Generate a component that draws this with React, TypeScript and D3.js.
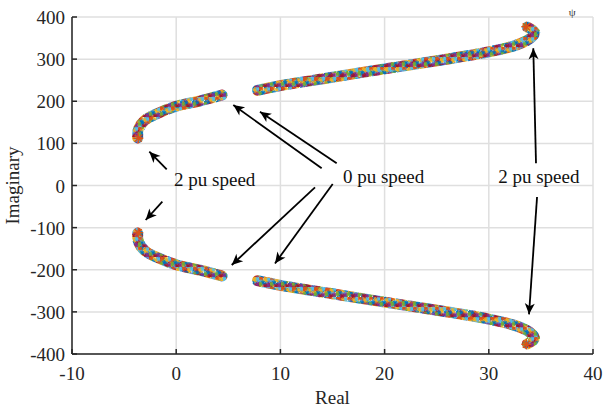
import React from 'react';
import * as d3 from 'd3';

const leftUpperRe = [4.4, 2.3, 0, -1.8, -3.0, -3.6, -3.7];
const leftUpperIm = [215, 201, 188, 171, 155, 135, 113];
const rightUpperRe = [7.8, 10, 15, 20, 25, 30, 32.6, 33.9, 34.4, 33.7];
const rightUpperIm = [226, 237, 257, 277, 296, 317, 333, 348, 363, 376];
const leftLowerRe = [4.4, 2.3, 0, -1.8, -3.0, -3.6, -3.7];
const leftLowerIm = [-215, -201, -188, -171, -155, -135, -113];
const rightLowerRe = [7.8, 10, 15, 20, 25, 30, 32.6, 33.9, 34.4, 33.7];
const rightLowerIm = [-226, -237, -257, -277, -296, -317, -333, -348, -363, -376];

// 2 pu end markers
const endRe = [-3.64, -3.64, 33.6, 33.6];
const endIm = [112, -112, 377, -377];

const xTicks = [-10, 0, 10, 20, 30, 40];
const yTicks = [-400, -300, -200, -100, 0, 100, 200, 300, 400];

// annotation arrows: [fromRe, fromIm, toRe, toIm]
const arrows = [
  [-0.91, 38.5, -2.58, 80.3],
  [-1.33, -38.5, -2.93, -81.9],
  [13.96, 40.8, 5.48, 191.1],
  [15.4, 52.7, 8.04, 175.2],
  [13.32, -4.3, 5.33, -188.7],
  [15.02, 3.6, 9.48, -185],
  [34.53, 52.7, 34.27, 325.7],
  [34.63, -27.3, 33.86, -305.8],
];
const labelText = ['2 pu speed', '0 pu speed', '2 pu speed'];
const labelRe = [-0.2, 16.0, 30.9];
const labelIm = [-1.5, 6.5, 6.5];

const COLORS = ['#0072BD', '#D95319', '#EDB120', '#7E2F8E', '#77AC30', '#4DBEEE', '#A2142F'];
const FONT = '"Liberation Serif", "Times New Roman", serif';

const W = 603;
const H = 408;
const margin = { top: 17, right: 10, bottom: 54, left: 72 };

const Star = ({ x, y, r, color, w = 1 }) => (
  <g stroke={color} strokeWidth={w}>
    <line x1={x - r} y1={y} x2={x + r} y2={y} />
    <line x1={x} y1={y - r} x2={x} y2={y + r} />
    <line x1={x - r * 0.7} y1={y - r * 0.7} x2={x + r * 0.7} y2={y + r * 0.7} />
    <line x1={x - r * 0.7} y1={y + r * 0.7} x2={x + r * 0.7} y2={y - r * 0.7} />
  </g>
);

// texture tiles: star marker spots [x, y, colour index]; two tiles of
// different size are laid over each other so the mix looks less regular
const tileA = [
  [1, 1, 0], [5, 0, 1], [9, 2, 2], [3, 4, 3], [7, 5, 4], [11, 6, 5],
  [1, 8, 6], [5, 9, 2], [9, 10, 1], [3, 12, 0], [7, 13, 3], [11, 13, 4],
  [0, 4, 5], [6, 2, 6], [10, 7, 0], [4, 7, 1], [8, 11, 5], [2, 10, 2],
];
const tileB = [
  [2, 1, 1], [7, 3, 2], [4, 6, 0], [9, 8, 3], [1, 7, 4], [6, 9, 6], [10, 2, 5],
];

export default function App() {
  const innerW = W - margin.left - margin.right;
  const innerH = H - margin.top - margin.bottom;

  const x = d3.scaleLinear().domain([-10, 40]).range([0, innerW]);
  const y = d3.scaleLinear().domain([-400, 400]).range([innerH, 0]);

  const line = d3
    .line<[number, number]>()
    .x(d => x(d[0]))
    .y(d => y(d[1]))
    .curve(d3.curveCatmullRom.alpha(0.5));

  const branches = [
    [leftUpperRe, leftUpperIm],
    [rightUpperRe, rightUpperIm],
    [leftLowerRe, leftLowerIm],
    [rightLowerRe, rightLowerIm],
  ].map(([re, im]) => line(re.map((v, i) => [v, im[i]])));

  const arrowHead = (a) => {
    const x1 = x(a[0]), y1 = y(a[1]), x2 = x(a[2]), y2 = y(a[3]);
    const ang = Math.atan2(y2 - y1, x2 - x1);
    const len = 11, half = 5, back = 8;
    const ux = Math.cos(ang), uy = Math.sin(ang);
    const px = -uy, py = ux;
    const bx = x2 - ux * len, by = y2 - uy * len;
    const mx = x2 - ux * back, my = y2 - uy * back;
    return `M${x2},${y2}L${bx + px * half},${by + py * half}L${mx},${my}L${bx - px * half},${by - py * half}Z`;
  };

  return (
    <svg width={W} height={H} style={{ position: 'absolute', left: 0, top: 0, background: '#fff' }}>
      <defs>
        <pattern id="starsA" patternUnits="userSpaceOnUse" width={12} height={14}>
          {tileA.map(([sx, sy, c], i) => (
            <Star key={i} x={sx} y={sy} r={2.6} color={COLORS[c]} w={1.2} />
          ))}
        </pattern>
        <pattern id="starsB" patternUnits="userSpaceOnUse" width={11} height={10}>
          {tileB.map(([sx, sy, c], i) => (
            <Star key={i} x={sx} y={sy} r={2.4} color={COLORS[c]} w={1.1} />
          ))}
        </pattern>
      </defs>
      <g transform={`translate(${margin.left},${margin.top})`} fontFamily={FONT}>
        {/* grid */}
        {xTicks.map(t => (
          <line key={'gx' + t} x1={x(t)} x2={x(t)} y1={0} y2={innerH} stroke="#dfdfdf" strokeWidth={1.5} />
        ))}
        {yTicks.map(t => (
          <line key={'gy' + t} x1={0} x2={innerW} y1={y(t)} y2={y(t)} stroke="#dfdfdf" strokeWidth={1.5} />
        ))}

        {/* loci */}
        {branches.map((d, i) => (
          <g key={'b' + i}>
            <path d={d} fill="none" stroke="url(#starsA)" strokeWidth={11} strokeLinecap="round" />
            <path d={d} fill="none" stroke="url(#starsB)" strokeWidth={10} strokeLinecap="round" />
          </g>
        ))}
        {endRe.map((v, i) => (
          <Star key={'e' + i} x={x(v)} y={y(endIm[i])} r={5} color="#D95319" w={1.4} />
        ))}

        {/* axes */}
        <line x1={0} x2={innerW} y1={innerH} y2={innerH} stroke="#262626" strokeWidth={1.5} />
        <line x1={0} x2={0} y1={0} y2={innerH} stroke="#262626" strokeWidth={1.5} />
        {xTicks.map(t => (
          <g key={'tx' + t}>
            <line x1={x(t)} x2={x(t)} y1={innerH} y2={innerH - 5} stroke="#262626" strokeWidth={1.5} />
            <text x={x(t)} y={innerH + 26} textAnchor="middle" fontSize={19} fill="#262626">
              {t}
            </text>
          </g>
        ))}
        {yTicks.map(t => (
          <g key={'ty' + t}>
            <line x1={0} x2={5} y1={y(t)} y2={y(t)} stroke="#262626" strokeWidth={1.5} />
            <text x={-7} y={y(t) + 7} textAnchor="end" fontSize={19} fill="#262626">
              {t}
            </text>
          </g>
        ))}
        <text x={x(15)} y={innerH + 50} textAnchor="middle" fontSize={19} fill="#262626">
          Real
        </text>
        <text
          transform={`translate(${19 - margin.left},${y(0)}) rotate(-90)`}
          textAnchor="middle"
          fontSize={19}
          fill="#262626"
        >
          Imaginary
        </text>

        {/* annotations */}
        {arrows.map((a, i) => (
          <g key={'a' + i}>
            <line x1={x(a[0])} y1={y(a[1])} x2={x(a[2])} y2={y(a[3])} stroke="#000" strokeWidth={1.8} />
            <path d={arrowHead(a)} fill="#000" />
          </g>
        ))}
        {labelText.map((t, i) => (
          <text key={'l' + i} x={x(labelRe[i])} y={y(labelIm[i])} fontSize={19} fill="#111">
            {t}
          </text>
        ))}
        <text x={x(38)} y={-1} fontSize={11} textAnchor="middle" fill="#333">
          ψ
        </text>
      </g>
    </svg>
  );
}
